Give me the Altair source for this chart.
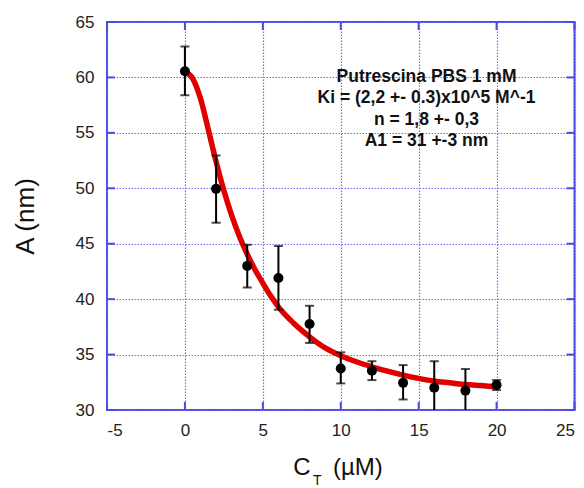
import altair as alt
import pandas as pd

# measured data
conc = [0, 2, 4, 6, 8, 10, 12, 14, 16, 18, 20]
amp = [60.55, 49.95, 43.0, 41.9, 37.75, 33.75, 33.55, 32.45, 32.0, 31.75, 32.25]
err_lo = [58.4, 46.9, 41.05, 39.05, 36.05, 32.4, 32.7, 30.95, 29.6, 29.8, 31.8]
err_hi = [62.8, 52.95, 44.9, 44.8, 39.4, 35.2, 34.4, 34.05, 34.4, 33.7, 32.7]

# fitted curve
curve_x = [0, 0.5, 1.0, 1.5, 2.0, 2.5, 3.0, 3.5, 4.0, 4.5, 5.0, 5.5, 6, 7, 8, 9, 10,
           11, 12, 13, 14, 15, 16, 17, 18, 19, 20]
curve_y = [60.5, 59.9, 58.1, 55.3, 52.4, 49.8, 47.55, 45.65, 44.05, 42.65, 41.45, 40.3,
           39.3, 37.8, 36.6, 35.6, 34.9, 34.35, 33.9, 33.5, 33.15, 32.85, 32.6, 32.45,
           32.3, 32.2, 32.1]

x_ticks = [-5, 0, 5, 10, 15, 20, 25]
y_ticks = [30, 35, 40, 45, 50, 55, 60, 65]

annotation = ["Putrescina PBS 1 mM", "Ki = (2,2 +- 0.3)x10^5 M^-1",
              "n = 1,8 +- 0,3", "A1 = 31 +-3 nm"]

W, H = 467.5, 388
BLUE = "#4b4be3"
GRID = "#6e6efa"
FONT = "Liberation Sans"

pts = pd.DataFrame({"c": conc, "a": amp, "lo": err_lo, "hi": err_hi})
curve = pd.DataFrame({"c": curve_x, "a": curve_y})
xt = pd.DataFrame({"v": x_ticks})
yt = pd.DataFrame({"v": y_ticks})
one = pd.DataFrame({"k": [0]})

xs = alt.Scale(domain=[-5, 25], nice=False, zero=False)
ys = alt.Scale(domain=[30, 65], nice=False, zero=False)

xaxis = alt.Axis(values=x_ticks, grid=True, gridColor=GRID, gridDash=[1.5, 1.5],
                 gridWidth=1.2, ticks=False, tickSize=0, domain=False,
                 labelFont=FONT, labelFontSize=17, labelColor="#222222",
                 labelPadding=12, title=None, labelExpr="'' + datum.value")
yaxis = alt.Axis(values=y_ticks, grid=True, gridColor=GRID, gridDash=[1.5, 1.5],
                 gridWidth=1.2, ticks=False, tickSize=0, domain=False,
                 labelFont=FONT, labelFontSize=17, labelColor="#222222",
                 labelPadding=13, title="A (nm)", titleFont=FONT,
                 titleFontSize=26, titleFontWeight="normal", titleColor="#111111",
                 titleAngle=270, titleX=-82, titleY=H / 2, titleAlign="center",
                 titleBaseline="middle")

base_grid = alt.Chart(curve).mark_point(opacity=0).encode(
    x=alt.X("c:Q", scale=xs, axis=xaxis),
    y=alt.Y("a:Q", scale=ys, axis=yaxis),
)

line = alt.Chart(curve).mark_line(color="#e00000", strokeWidth=5.5,
                                  interpolate="monotone", clip=True).encode(
    x=alt.X("c:Q", scale=xs), y=alt.Y("a:Q", scale=ys))

bars = alt.Chart(pts).mark_rule(color="black", strokeWidth=2, clip=True).encode(
    x=alt.X("c:Q", scale=xs), y=alt.Y("lo:Q", scale=ys), y2="hi:Q")
cap_hi = alt.Chart(pts).mark_tick(color="black", thickness=2, size=9,
                                  orient="horizontal", clip=True).encode(
    x=alt.X("c:Q", scale=xs), y=alt.Y("hi:Q", scale=ys))
cap_lo = alt.Chart(pts).mark_tick(color="black", thickness=2, size=9,
                                  orient="horizontal", clip=True).encode(
    x=alt.X("c:Q", scale=xs), y=alt.Y("lo:Q", scale=ys))
dots = alt.Chart(pts).mark_circle(color="black", size=100, opacity=1).encode(
    x=alt.X("c:Q", scale=xs), y=alt.Y("a:Q", scale=ys))

tick_style = dict(color=BLUE, strokeWidth=2)
xt_bottom = alt.Chart(xt).mark_rule(**tick_style).encode(
    x=alt.X("v:Q", scale=xs), y=alt.value(H), y2=alt.value(H - 8))
xt_top = alt.Chart(xt).mark_rule(**tick_style).encode(
    x=alt.X("v:Q", scale=xs), y=alt.value(0), y2=alt.value(8))
yt_left = alt.Chart(yt).mark_rule(**tick_style).encode(
    y=alt.Y("v:Q", scale=ys), x=alt.value(0), x2=alt.value(8))
yt_right = alt.Chart(yt).mark_rule(**tick_style).encode(
    y=alt.Y("v:Q", scale=ys), x=alt.value(W - 8), x2=alt.value(W))

ann_y = [54.7, 76.3, 98.0, 118.5]
ann_layers = [
    alt.Chart(one).mark_text(text=t, font=FONT, fontSize=17.5, fontWeight="bold",
                             color="#111111", align="center",
                             baseline="middle").encode(
        x=alt.value(319.5), y=alt.value(yy))
    for t, yy in zip(annotation, ann_y)
]

title_c = alt.Chart(one).mark_text(text="C", font=FONT, fontSize=24, color="#111111",
                                   align="right", baseline="middle").encode(
    x=alt.value(203.5), y=alt.value(446))
title_t = alt.Chart(one).mark_text(text="T", font=FONT, fontSize=14, color="#111111",
                                   align="left", baseline="middle").encode(
    x=alt.value(206), y=alt.value(459))
title_u = alt.Chart(one).mark_text(text="(µM)", font=FONT, fontSize=24, color="#111111",
                                   align="left", baseline="middle").encode(
    x=alt.value(226), y=alt.value(446))

chart = alt.layer(
    base_grid, line, bars, cap_hi, cap_lo, dots,
    xt_bottom, xt_top, yt_left, yt_right, *ann_layers,
    title_c, title_t, title_u,
).properties(
    width=W, height=H,
    autosize=alt.AutoSizeParams(type="none"),
    padding={"left": 107, "top": 22, "right": 9, "bottom": 78},
    background="white",
).configure_view(stroke=BLUE, strokeWidth=2)

chart.save("out.html", embed_options={"renderer": "svg", "actions": False})
